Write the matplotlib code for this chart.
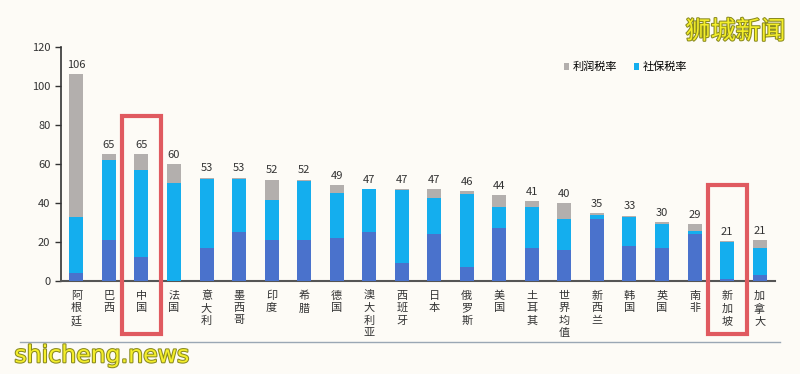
import matplotlib.pyplot as plt
import matplotlib.transforms as mtransforms
from matplotlib.patches import Rectangle
import matplotlib.patheffects as pe
import numpy as np

plt.rcParams["font.family"] = ["Noto Sans CJK SC", "DejaVu Sans"]

GREY, CYAN, NAVY = "#b3afad", "#14aeee", "#4a72cc"
RED, BG = "#e05a60", "#fdfbf6"

countries = ["阿根廷", "巴西", "中国", "法国", "意大利", "墨西哥", "印度", "希腊",
             "德国", "澳大利亚", "西班牙", "日本", "俄罗斯", "美国", "土耳其",
             "世界均值", "新西兰", "韩国", "英国", "南非", "新加坡", "加拿大"]
totals = [106, 65, 65, 60, 53, 53, 52, 52, 49, 47, 47, 47, 46, 44, 41, 40, 35, 33, 30, 29, 21, 21]
# bottom segment (dark blue, no legend entry in the original)
other_tax = [4, 21, 12, 0, 17, 25, 21, 21, 22, 25, 9, 24, 7, 27, 17, 16, 32, 18, 17, 24, 1, 3]
social_tax = [29, 41, 45, 50, 35.5, 27.5, 20.5, 30.5, 23, 22, 37.5, 18.5, 37.5, 11, 21, 16, 2, 15, 12, 1.5, 19, 14]
profit_tax = [73, 3, 8, 10, 0.5, 0.5, 10.5, 0.5, 4, 0.3, 0.5, 4.5, 1.5, 6, 3, 8, 1, 0.5, 1, 3.5, 0.5, 4]
highlight = ["中国", "新加坡"]

fig = plt.figure(figsize=(8, 3.74), dpi=100, facecolor=BG)
ax = fig.add_axes([0.076, 0.249, 0.893, 0.625])
ax.set_facecolor(BG)

x = np.arange(len(countries))
w = 0.43
oth = np.array(other_tax)
soc = np.array(social_tax)
ax.bar(x, oth, w, color=NAVY, zorder=3)
ax.bar(x, soc, w, bottom=oth, color=CYAN, zorder=3, label="社保税率")
ax.bar(x, profit_tax, w, bottom=oth + soc, color=GREY, zorder=3, label="利润税率")
for xi, t in zip(x, totals):
    top = other_tax[xi] + social_tax[xi] + profit_tax[xi]
    ax.annotate(f"{t}", (xi, top), xytext=(0, 3), textcoords="offset points",
                ha="center", va="bottom", fontsize=8, color="#333333")

ax.set_xlim(-0.48, len(countries) - 0.52)
ax.set_ylim(0, 120)
ax.set_yticks(range(0, 121, 20))
ax.set_xticks(x)
ax.set_xticklabels(["\n".join(c) for c in countries], fontsize=8, linespacing=1.3,
                   color="#333333")
ax.tick_params(axis="x", length=0, pad=7)
ax.tick_params(axis="y", labelsize=8, colors="#333333", length=4, width=1, direction="out")
for s in ["top", "right"]:
    ax.spines[s].set_visible(False)
ax.spines["left"].set_color("#333333")
ax.spines["bottom"].set_color("#555555")
ax.spines["left"].set_linewidth(1.2)
ax.spines["bottom"].set_linewidth(1.5)

h, l = ax.get_legend_handles_labels()
ax.legend(h[::-1], l[::-1], loc="upper left", bbox_to_anchor=(0.69, 0.98), ncol=2,
          frameon=False, fontsize=8, handlelength=0.5, handleheight=0.5,
          handletextpad=0.3, columnspacing=1.5)

# red highlight boxes
trans = mtransforms.blended_transform_factory(ax.transData, fig.transFigure)
for name in highlight:
    i = countries.index(name)
    y0, y1 = 1 - 334 / 374, 1 - 116 / 374 if name == "中国" else 1 - 185 / 374
    ax.add_patch(Rectangle((i - 0.6, y0), 1.2, y1 - y0, transform=trans, fill=False,
                           edgecolor=RED, linewidth=3, clip_on=False, zorder=5))

# thin rule under the chart
fig.add_artist(plt.Line2D([20 / 800, 780 / 800], [1 - 342 / 374] * 2, color="#9aa7b4",
                          linewidth=1))

# watermarks
wm = [pe.withStroke(linewidth=1.5, foreground="#8a8a20")]
fig.text(0.982, 0.915, "狮城新闻", ha="right", va="center", fontsize=18, color="#f4ee2a",
         path_effects=wm)
fig.text(0.018, 0.05, "shicheng.news", ha="left", va="center", fontsize=17, color="#f4ee2a",
         path_effects=wm, family=["DejaVu Sans"])

fig.savefig("out.png", dpi=100, facecolor=BG)
